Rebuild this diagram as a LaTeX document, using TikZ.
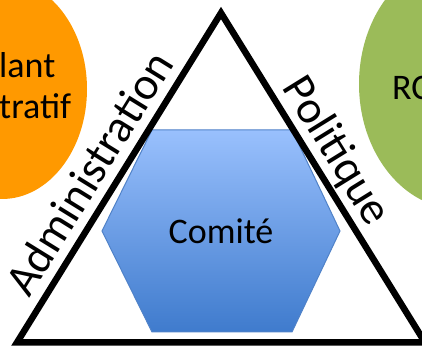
\documentclass[tikz,border=0pt]{standalone}
\usepackage{fontspec}
\setmainfont{Carlito}
\usetikzlibrary{positioning}
\definecolor{orangeshape}{RGB}{255,153,0}
\definecolor{greenshape}{RGB}{155,187,89}
\definecolor{hextop}{RGB}{153,192,253}
\definecolor{hexbottom}{RGB}{63,123,205}
\definecolor{hexborder}{RGB}{80,130,200}

\begin{document}
\begin{tikzpicture}[x=1pt, y=1pt,
    bubble/.style={inner sep=0pt, font=\fontsize{36}{41}\selectfont},
    side/.style={sloped, above=9pt, inner sep=0pt, text depth=0pt, font=\fontsize{46}{54}\selectfont}]
    \useasboundingbox (0,0) rectangle (422,347);
    \clip (0,0) rectangle (422,347);

    % the two round shapes, cut by the frame
    \fill[orangeshape] (2,258) ellipse [x radius=85, y radius=110];
    \fill[greenshape] (459,263) ellipse [x radius=100, y radius=125];
    \node[bubble, align=left, anchor=west] (adm) at (-1,261) {lant\\tratif};
    \node[bubble, anchor=base west] (rc) at (392,247) {RC};

    % hexagon
    \coordinate (h1) at (152,217);
    \coordinate (h2) at (292,217);
    \coordinate (h3) at (340,116);
    \coordinate (h4) at (292,15);
    \coordinate (h5) at (152,15);
    \coordinate (h6) at (102,116);
    \shade[top color=hextop, bottom color=hexbottom, draw=hexborder, line width=1pt]
        (h1) -- (h2) -- (h3) -- (h4) -- (h5) -- (h6) -- cycle;
    \node[bubble] (comite) at (221,116) {Comité};

    % triangle
    \coordinate (top) at (221,334);
    \coordinate (left) at (17,4.5);
    \coordinate (right) at (425,4.5);
    \draw[line width=6.5pt, line join=miter]
        (left) -- node[side, pos=0.47] (administration) {Administration}
        (top) -- node[side, pos=0.46] (politique) {Politique}
        (right) -- cycle;
\end{tikzpicture}
\end{document}
